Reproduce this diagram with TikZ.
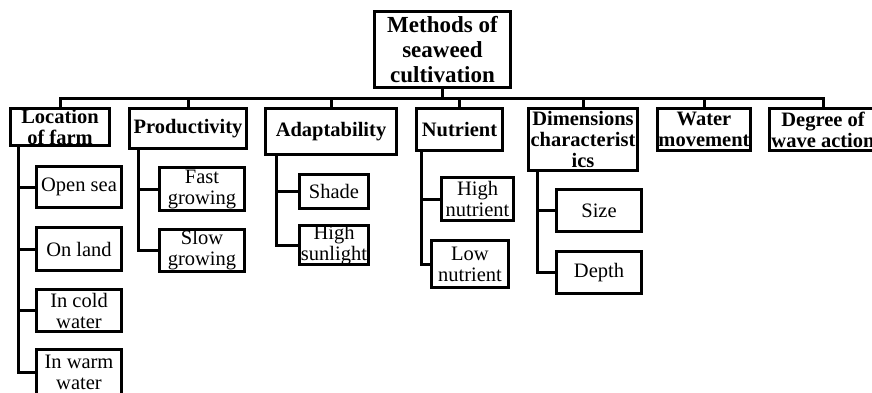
\documentclass[tikz,border=0pt]{standalone}
\usepackage{fontspec}
\setmainfont{Liberation Serif}
\usetikzlibrary{positioning}

\begin{document}
\begin{tikzpicture}[x=1pt,y=-1pt]
	\useasboundingbox (0,0) rectangle (872,392);

	% main heading and the seven methods
	\begin{scope}[every node/.style={draw,line width=3pt,align=center,inner sep=0pt,
	              font=\bfseries\fontsize{20.5}{21}\selectfont}]
	    \node (top) [font=\bfseries\fontsize{23}{25}\selectfont,
	                 minimum width=136pt,minimum height=76pt] at (442.5,49.5) {Methods of\\seaweed\\cultivation};
	    \node (loc) [minimum width=99pt,minimum height=37pt] at (60,127) {Location\\of farm};
	    \node (prod) [minimum width=117pt,minimum height=40pt] at (188,128.5) {Productivity};
	    \node (adapt) [minimum width=131pt,minimum height=46pt] at (331,131.5) {Adaptability};
	    \node (nutr) [minimum width=86pt,minimum height=42pt] at (459.5,129.5) {Nutrient};
	    \node (dim) [minimum width=109pt,minimum height=62pt] at (583,139.5) {Dimensions\\characterist\\ics};
	    \node (water) [minimum width=93pt,minimum height=42pt] at (704,129.5) {Water\\movement};
	    \node (wave) [minimum width=107pt,minimum height=42pt] at (823,129.5) {Degree of\\wave action};
	\end{scope}

	% sub-groups
	\begin{scope}[every node/.style={draw,line width=3pt,align=center,inner sep=0pt,
	              font=\fontsize{20.5}{21}\selectfont}]
	    \node (open) [minimum width=85pt,minimum height=41pt] at (79,187) {Open sea};
	    \node (land) [minimum width=85pt,minimum height=43pt] at (79,249) {On land};
	    \node (cold) [minimum width=85pt,minimum height=42pt] at (79,310.5) {In cold\\water};
	    \node (warm) [minimum width=85pt,minimum height=45pt] at (79,372) {In warm\\water};
	    \node (fast) [minimum width=85pt,minimum height=43pt] at (202,189) {Fast\\growing};
	    \node (slow) [minimum width=85pt,minimum height=42pt] at (202,250.5) {Slow\\growing};
	    \node (shade) [minimum width=69pt,minimum height=34pt] at (334,191.5) {Shade};
	    \node (sun) [minimum width=69pt,minimum height=33pt] at (334,245) {High\\sunlight};
	    \node (high) [minimum width=72pt,minimum height=43pt] at (477.5,199) {High\\nutrient};
	    \node (low) [minimum width=77pt,minimum height=47pt] at (470,264) {Low\\nutrient};
	    \node (size) [minimum width=85pt,minimum height=42pt] at (599,210.5) {Size};
	    \node (depth) [minimum width=85pt,minimum height=42pt] at (599,272.5) {Depth};
	\end{scope}

	\begin{scope}[line width=3pt]
	    \foreach \n in {loc,prod,adapt,nutr,dim,water,wave}
	        \draw (top.south) -- ++(0,9.5) -| (\n.north);
	    \foreach \n in {open,land,cold,warm}
	        \draw ([xshift=9.5pt]loc.south west) |- (\n.west);
	    \foreach \n in {fast,slow}
	        \draw ([xshift=10.5pt]prod.south west) |- (\n.west);
	    \foreach \n in {shade,sun}
	        \draw ([xshift=12.5pt]adapt.south west) |- (\n.west);
	    \foreach \n in {high,low}
	        \draw ([xshift=6.5pt]nutr.south west) |- (\n.west);
	    \foreach \n in {size,depth}
	        \draw ([xshift=10.5pt]dim.south west) |- (\n.west);
	\end{scope}
\end{tikzpicture}
\end{document}
